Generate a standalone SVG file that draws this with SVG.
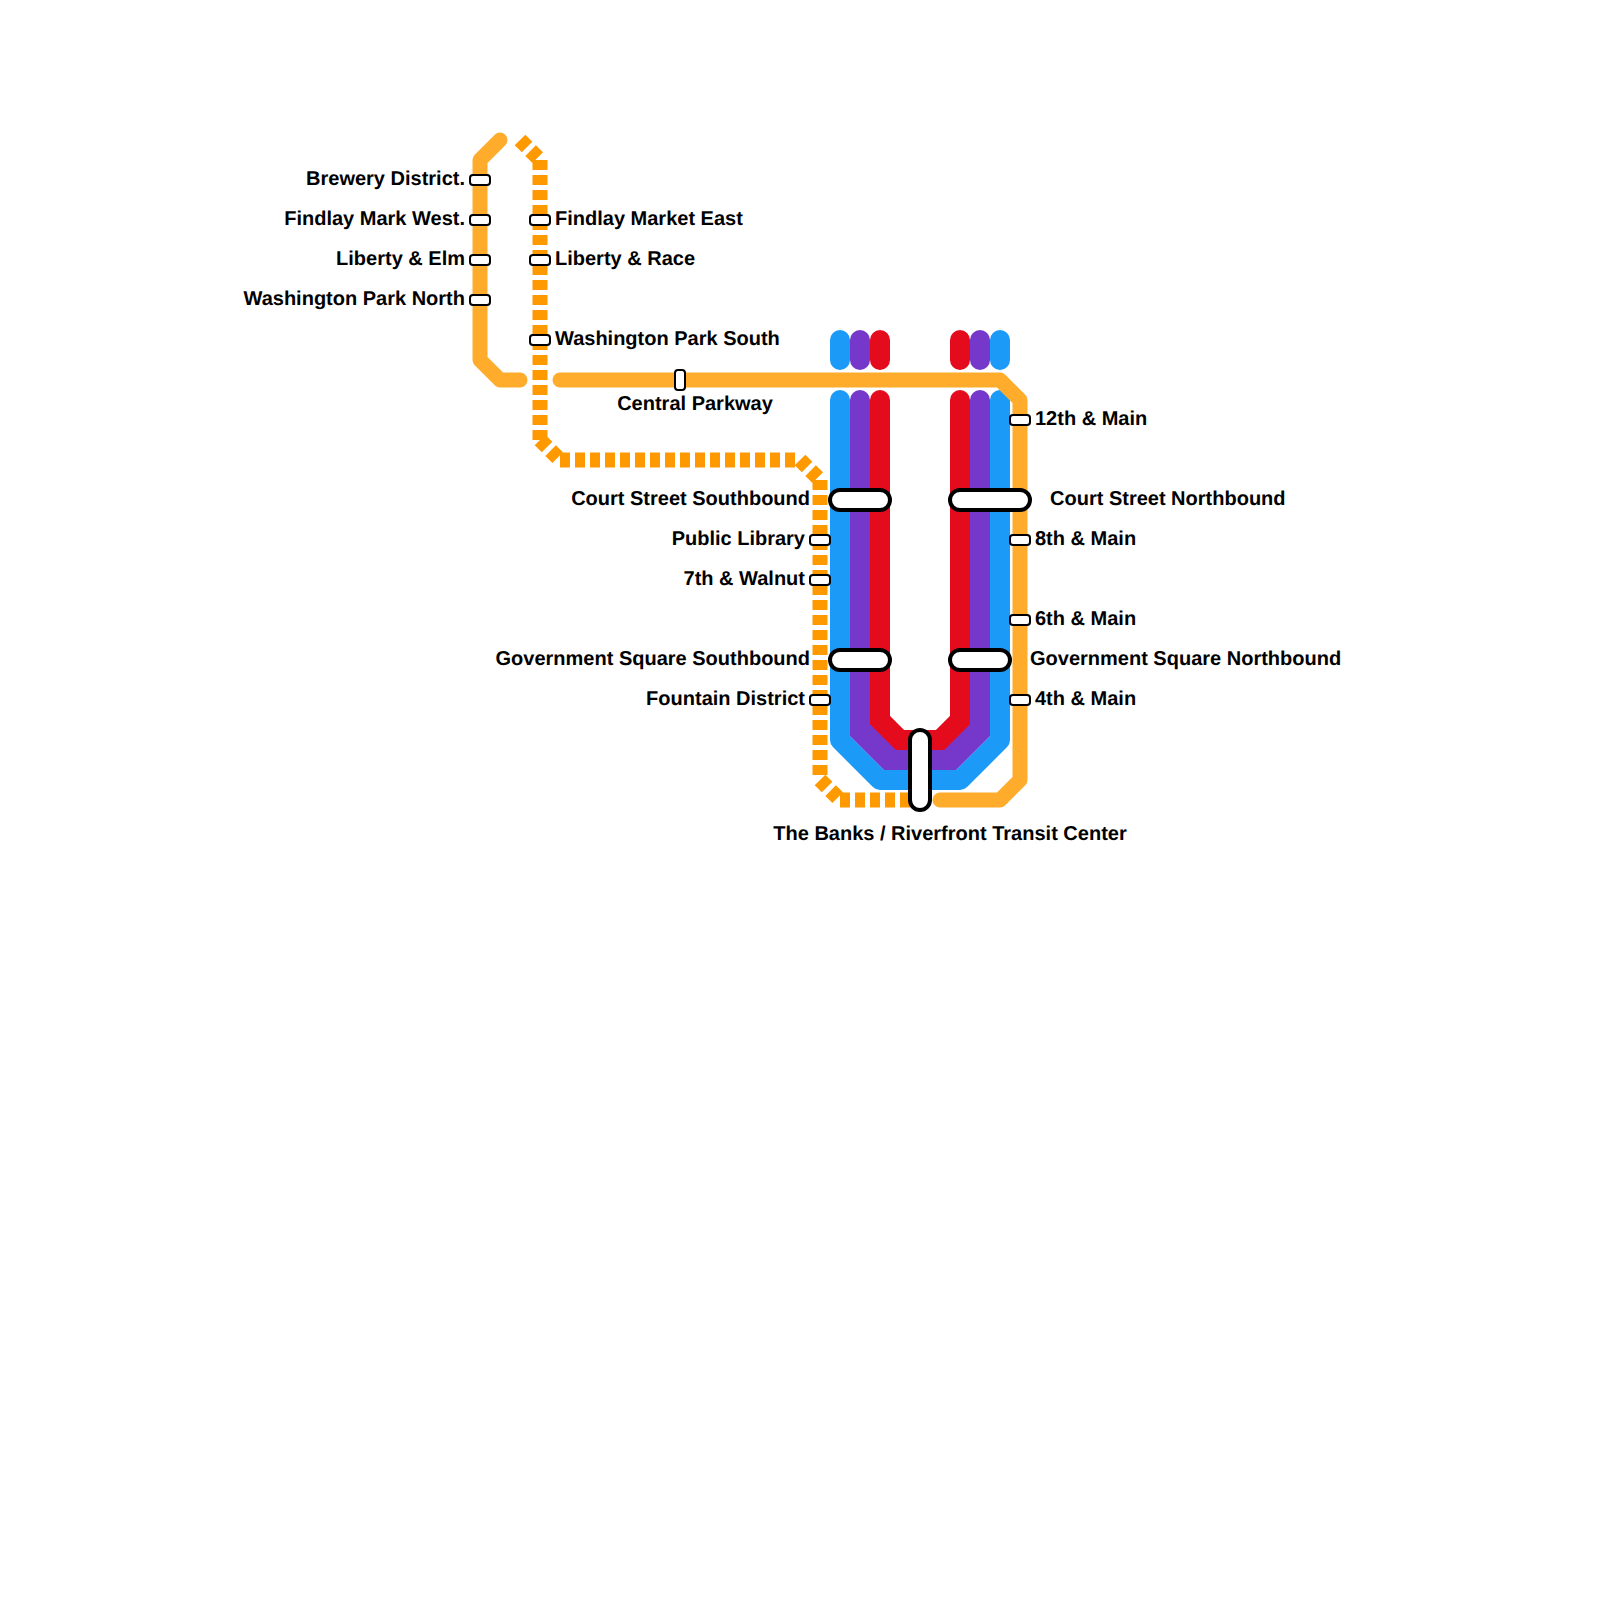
<svg xmlns="http://www.w3.org/2000/svg" width="1600" height="1600" viewBox="0 0 1600 1600">
<style>
.ln{fill:none;stroke-linejoin:round;stroke-linecap:round}
.sharp{stroke-linejoin:miter}
.b{stroke:#1b9bf7;stroke-width:20}
.p{stroke:#7638ca;stroke-width:20}
.pf{fill:#7638ca}
.r{stroke:#e40c1c;stroke-width:20}
.o{stroke:#ffac2c;stroke-width:15}
.d{fill:none;stroke:#ff9900;stroke-width:15;stroke-dasharray:10 5;stroke-linecap:butt}
.s{fill:#fff;stroke:#000;stroke-width:2}
.x{fill:#fff;stroke:#000;stroke-width:4}
text{font-family:"Liberation Sans",Arial,sans-serif;font-weight:700;font-size:20px;fill:#000;text-rendering:geometricPrecision}
.e{text-anchor:end}
.m{text-anchor:middle}
</style>
<g id="connectors">
<path class="ln b" d="M840 340V360M840 400V740L880 780H960L1000 740V400M1000 340V360"/>
<path class="ln p sharp" d="M860 340V360M860 400V730L890 760H950L980 730V400M980 340V360"/>
<path class="pf" d="M850 736L884 770H900V730L870 700H850Z"/>
<path class="pf" d="M990 736L956 770H940V730L970 700H990Z"/>
<path class="ln r sharp" d="M880 340V360M880 400V720L900 740H940L960 720V400M960 340V360"/>
<path class="ln o" d="M500 140L480 160V360L500 380H520M560 380H1000L1020 400V780L1000 800H940"/>
<path class="d" d="M520 140L540 160"/><path class="d" d="M540 160V440"/><path class="d" d="M540 440L560 460"/><path class="d" d="M560 460H800"/><path class="d" d="M800 460L820 480"/><path class="d" d="M820 480V780"/><path class="d" d="M820 780L840 800"/><path class="d" d="M840 800H910"/>
</g>
<g id="brewery"><rect class="s" x="470" y="175" width="20" height="10" rx="3"/><text class="e" x="465" y="185">Brewery District.</text></g>
<g id="findlay-west"><rect class="s" x="470" y="215" width="20" height="10" rx="3"/><text class="e" x="465" y="225">Findlay Mark West.</text></g>
<g id="liberty-elm"><rect class="s" x="470" y="255" width="20" height="10" rx="3"/><text class="e" x="465" y="265">Liberty &amp; Elm</text></g>
<g id="wash-north"><rect class="s" x="470" y="295" width="20" height="10" rx="3"/><text class="e" x="465" y="305">Washington Park North</text></g>
<g id="findlay-east"><rect class="s" x="530" y="215" width="20" height="10" rx="3"/><text x="555" y="225">Findlay Market East</text></g>
<g id="liberty-race"><rect class="s" x="530" y="255" width="20" height="10" rx="3"/><text x="555" y="265">Liberty &amp; Race</text></g>
<g id="wash-south"><rect class="s" x="530" y="335" width="20" height="10" rx="3"/><text x="555" y="345">Washington Park South</text></g>
<g id="central"><rect class="s" x="675" y="370" width="10" height="20" rx="3"/><text class="m" x="695" y="410">Central Parkway</text></g>
<g id="12th"><rect class="s" x="1010" y="415" width="20" height="10" rx="3"/><text x="1035" y="425">12th &amp; Main</text></g>
<g id="court-s"><rect class="x" x="830" y="490" width="60" height="20" rx="10"/><text class="e" x="810" y="505">Court Street Southbound</text></g>
<g id="court-n"><rect class="x" x="950" y="490" width="80" height="20" rx="10"/><text x="1050" y="505">Court Street Northbound</text></g>
<g id="library"><rect class="s" x="810" y="535" width="20" height="10" rx="3"/><text class="e" x="805" y="545">Public Library</text></g>
<g id="8th"><rect class="s" x="1010" y="535" width="20" height="10" rx="3"/><text x="1035" y="545">8th &amp; Main</text></g>
<g id="7th"><rect class="s" x="810" y="575" width="20" height="10" rx="3"/><text class="e" x="805" y="585">7th &amp; Walnut</text></g>
<g id="6th"><rect class="s" x="1010" y="615" width="20" height="10" rx="3"/><text x="1035" y="625">6th &amp; Main</text></g>
<g id="gov-s"><rect class="x" x="830" y="650" width="60" height="20" rx="10"/><text class="e" x="810" y="665">Government Square Southbound</text></g>
<g id="gov-n"><rect class="x" x="950" y="650" width="60" height="20" rx="10"/><text x="1030" y="665">Government Square Northbound</text></g>
<g id="fountain"><rect class="s" x="810" y="695" width="20" height="10" rx="3"/><text class="e" x="805" y="705">Fountain District</text></g>
<g id="4th"><rect class="s" x="1010" y="695" width="20" height="10" rx="3"/><text x="1035" y="705">4th &amp; Main</text></g>
<g id="banks"><rect class="x" x="910" y="730" width="20" height="80" rx="10"/><text class="m" x="950" y="840">The Banks / Riverfront Transit Center</text></g>
</svg>
